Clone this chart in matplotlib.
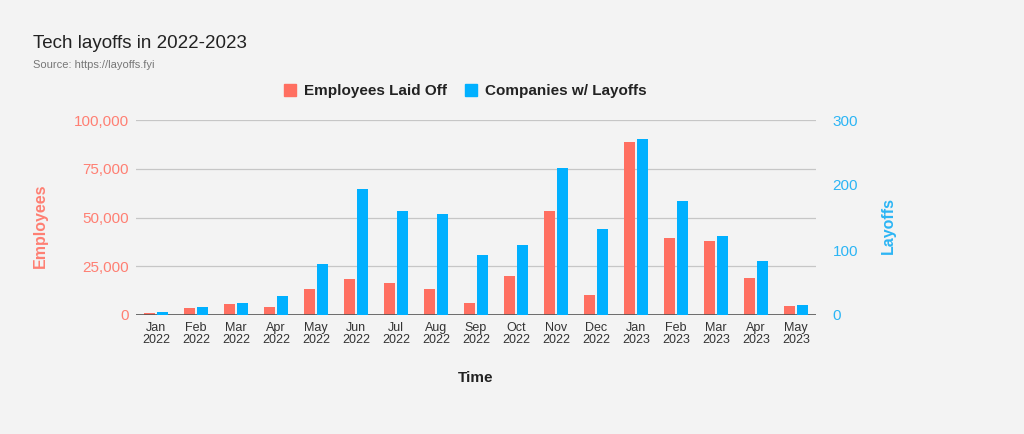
import numpy as np
import matplotlib.pyplot as plt
from matplotlib.patches import Patch
from matplotlib.ticker import FuncFormatter

plt.rcParams['font.family'] = ['Liberation Sans', 'DejaVu Sans']

# data
months = ['Jan\n2022', 'Feb\n2022', 'Mar\n2022', 'Apr\n2022', 'May\n2022', 'Jun\n2022',
          'Jul\n2022', 'Aug\n2022', 'Sep\n2022', 'Oct\n2022', 'Nov\n2022', 'Dec\n2022',
          'Jan\n2023', 'Feb\n2023', 'Mar\n2023', 'Apr\n2023', 'May\n2023']
employees = [900, 3600, 5600, 4100, 13200, 18300, 16300, 13200, 6200, 20200,
             53300, 10100, 88900, 39300, 37800, 19100, 4600]
companies = [5, 12, 18, 29, 78, 194, 160, 156, 93, 107, 226, 133, 271, 176, 121, 83, 15]

red = '#ff6f61'
blue = '#00b0ff'
red_txt = '#ff7f73'
blue_txt = '#2cb5f5'
bg = '#f3f3f3'

fig = plt.figure(figsize=(10.24, 4.34), dpi=100, facecolor=bg)
ax = fig.add_axes([136 / 1024, 1 - 315 / 434, 680 / 1024, 195 / 434], facecolor=bg)
ax2 = ax.twinx()

x = np.arange(len(months))
w = 0.26
ax.bar(x - 0.16, employees, w, color=red, zorder=3)
ax2.bar(x + 0.16, companies, w, color=blue, zorder=3)

ax.set_xlim(-0.5, len(months) - 0.5)
ax.set_ylim(0, 100000)
ax2.set_ylim(0, 300)
ax.set_yticks([0, 25000, 50000, 75000, 100000])
ax2.set_yticks([0, 100, 200, 300])
ax.yaxis.set_major_formatter(FuncFormatter(lambda v, p: f'{int(v):,}'))

ax.set_xticks(x)
ax.set_xticklabels(months, fontsize=9, color='#333333', linespacing=1.0)
ax.tick_params(axis='x', length=0, pad=5)
ax.tick_params(axis='y', length=0, labelsize=11, labelcolor=red_txt, pad=5)
ax2.tick_params(axis='y', length=0, labelsize=11, labelcolor=blue_txt, pad=12)

ax.grid(axis='y', color='#c6c6c6', linewidth=0.9, zorder=0)
for a in (ax, ax2):
    for s in a.spines.values():
        s.set_visible(False)
ax.axhline(0, color='#555555', linewidth=1.2, zorder=4)

ax.set_ylabel('Employees', fontsize=11.5, fontweight='bold', color=red_txt)
ax.yaxis.set_label_coords(-0.13, 0.46)
ax2.set_ylabel('Layoffs', fontsize=11.5, fontweight='bold', color=blue_txt)
ax2.yaxis.set_label_coords(1.095, 0.46)
ax.set_xlabel('Time', fontsize=11, fontweight='bold', color='#222222', labelpad=18)

fig.text(33 / 1024, 1 - 43 / 434, 'Tech layoffs in 2022-2023', fontsize=13.5,
         color='#222222', va='center')
fig.text(33 / 1024, 1 - 65 / 434, 'Source: https://layoffs.fyi', fontsize=8,
         color='#777777', va='center')

handles = [Patch(color=red, label='Employees Laid Off'),
           Patch(color=blue, label='Companies w/ Layoffs')]
fig.legend(handles=handles, loc='center', bbox_to_anchor=(465 / 1024, 1 - 91 / 434),
           ncol=2, frameon=False, prop={'size': 11, 'weight': 'bold'},
           handlelength=0.8, handleheight=0.8, handletextpad=0.5, columnspacing=1.2,
           labelcolor='#222222')

fig.savefig('out.png', dpi=100, facecolor=bg)
